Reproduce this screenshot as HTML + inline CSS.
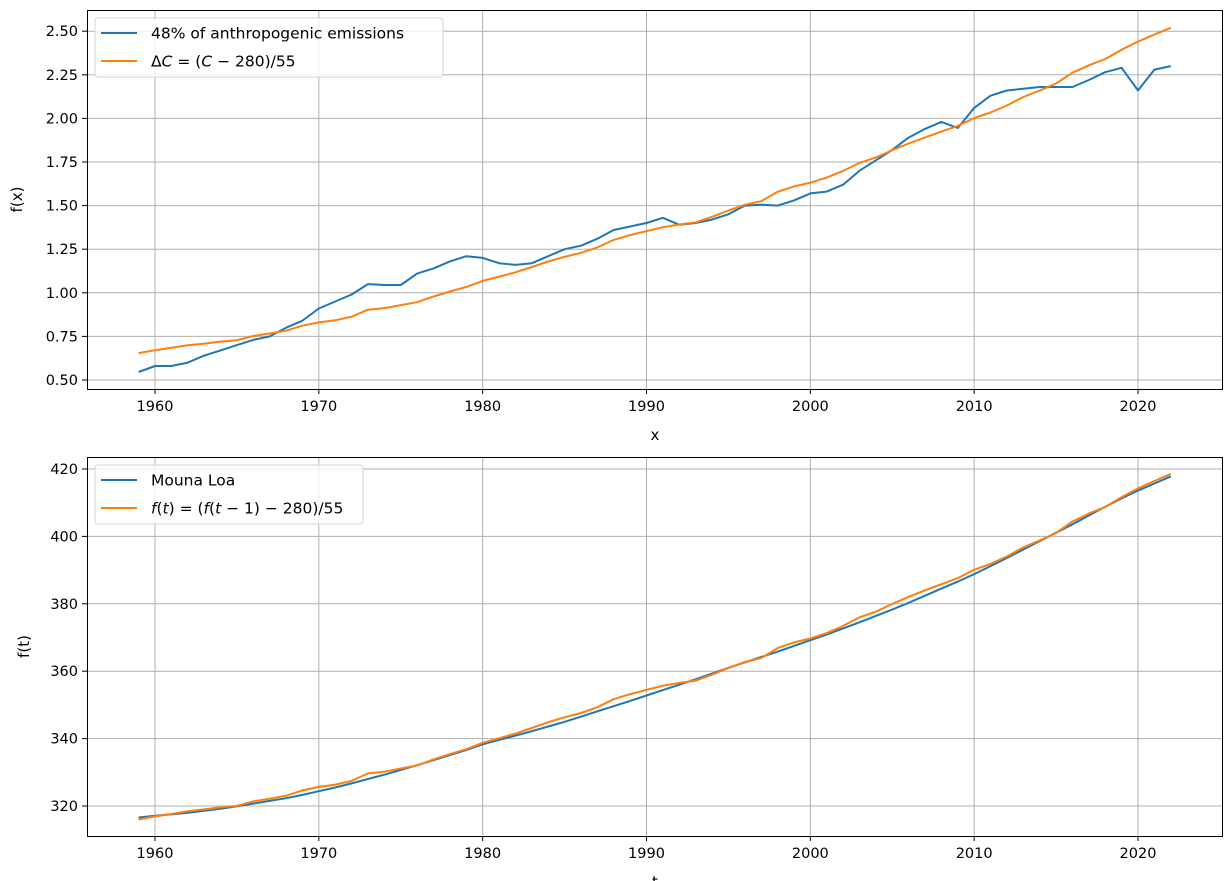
<!DOCTYPE html>
<html><head><meta charset="utf-8"><style>
html,body{margin:0;padding:0;background:#fff}
svg{display:block;font-family:"DejaVu Sans","Liberation Sans",sans-serif}
</style></head><body>
<svg id="fig" width="1231" height="881" viewBox="0 0 1231 881"></svg>
<script>
const years = [];
for (let y = 1959; y <= 2022; y++) years.push(y);
const emissions48 = [0.546,0.58,0.58,0.60,0.64,0.67,0.70,0.73,0.75,0.80,0.84,0.91,0.95,0.99,1.05,1.045,1.045,1.11,1.14,1.18,1.21,1.20,1.17,1.16,1.17,1.21,1.25,1.27,1.31,1.36,1.38,1.40,1.43,1.39,1.40,1.42,1.45,1.50,1.505,1.50,1.53,1.57,1.58,1.62,1.70,1.76,1.82,1.89,1.94,1.98,1.945,2.06,2.13,2.16,2.17,2.18,2.18,2.18,2.22,2.265,2.29,2.16,2.28,2.30];
const co2Obs = [315.98,316.91,317.64,318.45,318.99,319.62,320.04,321.37,322.18,323.05,324.62,325.68,326.32,327.46,329.68,330.19,331.12,332.03,333.84,335.41,336.84,338.76,340.12,341.48,343.15,344.87,346.35,347.61,349.31,351.69,353.20,354.45,355.70,356.54,357.21,358.96,360.97,362.74,363.88,366.84,368.54,369.71,371.32,373.45,375.98,377.70,379.98,382.09,384.02,385.83,387.64,390.10,391.85,394.06,396.74,398.81,401.01,404.41,406.76,408.72,411.66,414.24,416.45,418.56];
const deltaC = co2Obs.map(c => (c - 280) / 55);
const maunaLoa = [316.6,317.1,317.5,318.0,318.6,319.2,319.9,320.7,321.5,322.3,323.3,324.4,325.5,326.7,328.0,329.3,330.7,332.1,333.6,335.1,336.6,338.3,339.6,340.9,342.2,343.6,345.0,346.5,348.1,349.6,351.2,352.8,354.4,356.0,357.6,359.3,361.0,362.6,364.2,365.8,367.5,369.2,370.9,372.7,374.5,376.4,378.3,380.3,382.4,384.5,386.6,388.8,391.2,393.6,396.1,398.6,401.1,403.6,406.2,408.8,411.3,413.6,415.7,417.8];
const xTicks = [1960,1970,1980,1990,2000,2010,2020];
const yTicksTop = [0.50,0.75,1.00,1.25,1.50,1.75,2.00,2.25,2.50];
const yTicksBot = [320,340,360,380,400,420];

const NS = "http://www.w3.org/2000/svg";
const svg = document.getElementById('fig');
function el(tag, attrs, parent, text) {
  const e = document.createElementNS(NS, tag);
  for (const k in attrs) e.setAttribute(k, attrs[k]);
  if (text !== undefined) e.textContent = text;
  (parent || svg).appendChild(e);
  return e;
}
const xScale = v => 155 + (v - 1960) * (1138 - 155) / 60;

function panel(name, top, bottom, yS, yTicks, fmt, series, xlabel, ylabel, ylabelX, legend) {
  const g = el('g', {}, svg);
  
  
  const L = 87, R = 1223;
  xTicks.forEach(t => {
    const x = xScale(t);
    const gl = el('line', {x1:x, x2:x, y1:top, y2:bottom, stroke:'#b0b0b0', 'stroke-width':1}, g);
    
    
    el('line', {x1:x, x2:x, y1:bottom, y2:bottom+5, stroke:'#000', 'stroke-width':1}, g);
    const tl = el('text', {x:x, y:bottom+22, 'text-anchor':'middle', 'font-size':14.5, fill:'#000'}, g, t);
    
    
  });
  yTicks.forEach(t => {
    const y = yS(t);
    const gl = el('line', {x1:L, x2:R, y1:y, y2:y, stroke:'#b0b0b0', 'stroke-width':1}, g);
    
    
    el('line', {x1:L-5, x2:L, y1:y, y2:y, stroke:'#000', 'stroke-width':1}, g);
    const tl = el('text', {x:L-9, y:y+5, 'text-anchor':'end', 'font-size':14.5, fill:'#000'}, g, fmt(t));
    
    
  });
  series.forEach(s => {
    const d = s.vals.map((v,i) => (i ? 'L' : 'M') + xScale(years[i]).toFixed(1) + ',' + yS(v).toFixed(1)).join('');
    const p = el('path', {d:d, fill:'none', stroke:s.color, 'stroke-width':2, 'stroke-linejoin':'round'}, g);
    
    
  });
  const frame = el('rect', {x:L+0.5, y:top+0.5, width:R-L-1, height:bottom-top, fill:'none', stroke:'#000', 'stroke-width':1}, g);
  
  
  const xl = el('text', {x:655, y:bottom+51, 'text-anchor':'middle', 'font-size':15, fill:'#000'}, g, xlabel);
  
  
  const yl = el('text', {x:ylabelX, y:(top+bottom)/2, 'text-anchor':'middle', 'font-size':15, fill:'#000', transform:`rotate(-90 ${ylabelX} ${(top+bottom)/2})`}, g, ylabel);
  
  
  const lg = el('g', {}, g);
  
  
  el('rect', {x:95, y:top+8, width:legend.w, height:59, rx:3, fill:'#fff', 'fill-opacity':0.8, stroke:'#d6d6d6'}, lg);
  legend.items.forEach((it, i) => {
    const y = top + 23 + i * 28;
    const ent = el('g', {}, lg);
    
    
    el('line', {x1:101, x2:137, y1:y, y2:y, stroke:it.color, 'stroke-width':2}, ent);
    const t = el('text', {x:151, y:y+5.5, 'font-size':15.5, fill:'#000'}, ent);
    t.innerHTML = it.label;
  });
}
const topY = v => 380 - (v - 0.5) * 174.4;
panel('top-chart', 10, 389, topY, yTicksTop, v => v.toFixed(2),
  [{name:'emissions-line', vals:emissions48, color:'#1f77b4'}, {name:'delta-c-line', vals:deltaC, color:'#ff7f0e'}],
  'x', 'f(x)', 22, {w:348, items:[{color:'#1f77b4', label:'48% of anthropogenic emissions'},
  {color:'#ff7f0e', label:'Δ<tspan font-style="italic">C</tspan> = (<tspan font-style="italic">C</tspan> − 280)/55'}]});
const botY = v => 806 - (v - 320) * 3.37;
panel('bottom-chart', 457, 836, botY, yTicksBot, v => String(v),
  [{name:'mauna-loa-line', vals:maunaLoa, color:'#1f77b4'}, {name:'recursive-f-line', vals:co2Obs, color:'#ff7f0e'}],
  't', 'f(t)', 29, {w:268, items:[{color:'#1f77b4', label:'Mouna Loa'},
  {color:'#ff7f0e', label:'<tspan font-style="italic">f</tspan>(<tspan font-style="italic">t</tspan>) = (<tspan font-style="italic">f</tspan>(<tspan font-style="italic">t</tspan> − 1) − 280)/55'}]});
</script>
</body></html>
